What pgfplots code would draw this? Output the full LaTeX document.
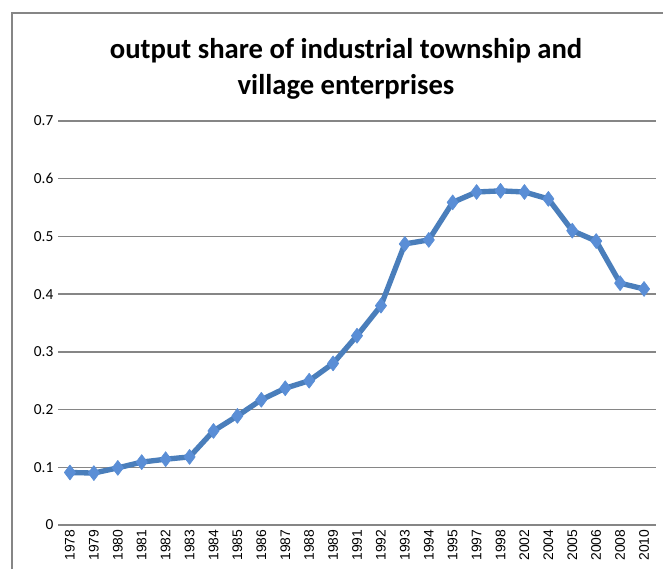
\documentclass[border=0pt]{standalone}
\usepackage{pgfplots}
\pgfplotsset{compat=1.18}
\usepackage{fontspec}
\setmainfont{Carlito}
\newfontfamily\arialf{Liberation Sans}
\definecolor{linec}{HTML}{4A7EBB}
\definecolor{markc}{HTML}{5A8ED6}
\definecolor{gridc}{HTML}{868686}
\pgfplotstableread{
idx val
0 0.091
1 0.090
2 0.099
3 0.109
4 0.114
5 0.118
6 0.163
7 0.189
8 0.217
9 0.237
10 0.250
11 0.280
12 0.328
13 0.380
14 0.487
15 0.494
16 0.559
17 0.577
18 0.579
19 0.577
20 0.565
21 0.510
22 0.492
23 0.419
24 0.409
}\shares
\begin{document}
\begin{tikzpicture}
\path[use as bounding box] (0pt,0pt) rectangle (497.25pt,426.75pt);
\draw[gridc, line width=1.2pt] (9pt,0pt) -- (9pt,417pt) -- (497.25pt,417pt);
\node[font=\fontsize{21.5}{26.5}\selectfont\bfseries, align=center] at (259.5pt,375pt) {output share of industrial township and\\village enterprises};
\begin{axis}[at={(43.5pt,33pt)}, anchor=south west, scale only axis,
  width=448.5pt, height=303pt,
  xmin=-0.5, xmax=24.5, ymin=0, ymax=0.7,
  xtick={0,...,24},
  xticklabels={1978,1979,1980,1981,1982,1983,1984,1985,1986,1987,1988,1989,1991,1992,1993,1994,1995,1997,1998,2002,2004,2005,2006,2008,2010},
  ytick={0,0.1,0.2,0.3,0.4,0.5,0.6,0.7},
  yticklabels={0,0.1,0.2,0.3,0.4,0.5,0.6,0.7},
  xticklabel style={font=\arialf\fontsize{10.4}{12}\selectfont, rotate=90, anchor=east},
  yticklabel style={font=\fontsize{11.5}{13}\selectfont},
  major tick length=0pt,
  xtick pos=bottom, ytick pos=left,
  axis line style={draw=none},
  ymajorgrids, grid style={gridc, line width=1.1pt},
  clip=false,
]
\addplot[linec, line width=4pt, line join=round, mark=diamond*, mark size=5.6pt,
  mark options={fill=markc, draw=markc, line width=0.5pt}] table[x=idx,y=val] {\shares};
\end{axis}
\end{tikzpicture}
\end{document}
